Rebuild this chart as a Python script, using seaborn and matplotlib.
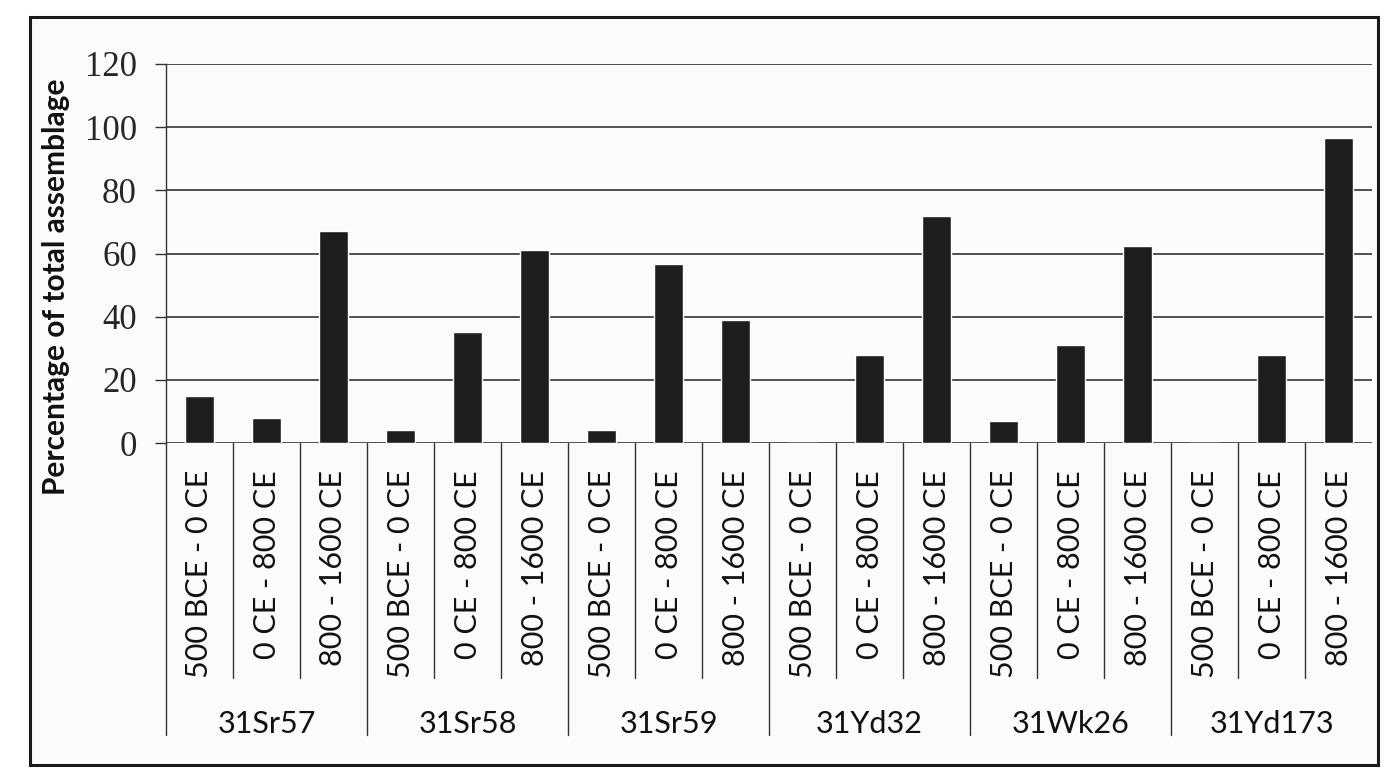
import pandas as pd
import matplotlib
matplotlib.use('Agg')
import matplotlib.pyplot as plt
import matplotlib.transforms as mtransforms
from matplotlib.patches import Rectangle
import seaborn as sns

#Datos
sites = ['31Sr57', '31Sr58', '31Sr59', '31Yd32', '31Wk26', '31Yd173']
periods = ['500 BCE - 0 CE', '0 CE - 800 CE', '800 - 1600 CE']
pct_500bce_0ce = [15, 4, 4, 0, 7, 0]
pct_0ce_800ce = [8, 35, 56.7, 28, 31, 28]
pct_800_1600ce = [67, 61, 39, 72, 62.3, 96.5]
y_ticks = [0, 20, 40, 60, 80, 100, 120]

rows = []
for i, site in enumerate(sites):
    for period, vals in zip(periods, [pct_500bce_0ce, pct_0ce_800ce, pct_800_1600ce]):
        rows.append({'site': site, 'period': period, 'bar': f'{site}|{period}', 'value': vals[i]})
df = pd.DataFrame(rows)

sns.set_theme(style='white')
plt.rcParams['font.family'] = ['Lato', 'DejaVu Sans']

W, H = 1385, 777
fig = plt.figure(figsize=(W / 100, H / 100), dpi=100)
fig.patch.set_facecolor('white')

#Marco exterior
fig.patches.append(Rectangle((30 / W, 1 - 765 / H), (1378 - 30) / W, (765 - 17) / H,
                             transform=fig.transFigure, facecolor='#fbfbfb',
                             edgecolor='#1a1a1a', linewidth=2.2, zorder=-5))

left, right, top, bottom = 166, 1372, 64, 443
ax = fig.add_axes([left / W, 1 - bottom / H, (right - left) / W, (bottom - top) / H])
ax.set_facecolor('none')

sns.barplot(data=df, x='bar', y='value', color='#1e1e1e', width=0.44,
            saturation=1, ax=ax, zorder=3)

ax.set_ylim(0, 120)
ax.set_xlim(-0.5, len(df) - 0.5)
ax.set_yticks(y_ticks)
ax.set_yticklabels([str(t) for t in y_ticks], family='Liberation Serif', fontsize=25)
ax.set_xticks([])
ax.set_xlabel('')
ax.set_ylabel('')
ax.tick_params(axis='y', length=8, width=1, color='#333333', pad=13, left=True)

#Líneas de cuadrícula
for t in y_ticks:
    ax.axhline(t, color='#333333', lw=1.2, zorder=1)

for s in ['top', 'right', 'bottom']:
    ax.spines[s].set_visible(False)
ax.spines['left'].set_color('#333333')
ax.spines['left'].set_linewidth(1)

#Etiquetas anidadas del eje x
trans = mtransforms.blended_transform_factory(ax.transData, ax.transAxes)
ax_h = bottom - top
per_end = -(678 - bottom) / ax_h
grp_end = -(735 - bottom) / ax_h
per_top = -(470 - bottom) / ax_h
grp_y = -(724 - bottom) / ax_h

n = len(df)
for k in range(n):
    xb = k - 0.5
    end = grp_end if k % 3 == 0 else per_end
    ax.plot([xb, xb], [0, end], transform=trans, color='#333333', lw=1,
            clip_on=False, zorder=2)

for k, period in enumerate(df['period']):
    ax.text(k, per_top, period, transform=trans, rotation=90, ha='center',
            va='top', fontsize=22, color='#111111')

for i, site in enumerate(sites):
    ax.text(i * 3 + 1, grp_y, site, transform=trans, ha='center', va='center',
            fontsize=22, color='#111111')

fig.text(56 / W, 1 - 287 / H, 'Percentage of total assemblage', rotation=90,
         ha='center', va='center', fontsize=21.5, fontweight='bold', color='#111111')

fig.savefig('out.png', dpi=100)
